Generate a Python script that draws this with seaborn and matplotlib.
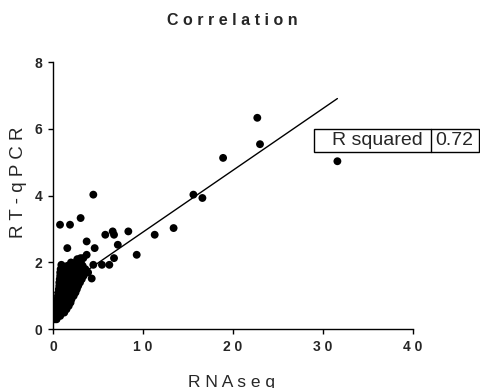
import numpy as np
import pandas as pd
import matplotlib
matplotlib.use("Agg")
import matplotlib.pyplot as plt
import seaborn as sns
from matplotlib.patches import Rectangle

# === Data (RNAseq vs RT-qPCR) ===
# dense cluster near the origin
cluster_x = [0.2, 0.4,
             0.25, 0.55, 0.8,
             0.3, 0.6, 0.95, 1.25,
             0.35, 0.7, 1.1, 1.5,
             0.4, 0.75, 1.1, 1.5, 1.75,
             0.45, 0.8, 1.2, 1.6, 1.95,
             0.5, 0.85, 1.25, 1.65, 2.05,
             0.55, 0.9, 1.3, 1.7, 2.1, 2.3,
             0.6, 1.0, 1.4, 1.8, 2.3, 2.5,
             0.65, 1.05, 1.5, 1.9, 2.4, 2.65,
             0.7, 1.1, 1.55, 2.0, 2.5, 2.8,
             0.7, 1.15, 1.6, 2.1, 2.6, 3.0,
             0.75, 1.2, 1.7, 2.2, 2.7, 3.2,
             0.8, 1.3, 1.8, 2.3, 2.8, 3.4,
             0.8, 1.35, 1.9, 2.4, 2.9, 3.5, 3.9,
             0.85, 1.4, 2.0, 2.5, 3.0, 3.6,
             1.0, 1.6, 2.2, 2.8, 3.3,
             2.0, 2.6, 3.1,
             2.7]
cluster_y = [0.30, 0.30,
             0.40, 0.40, 0.40,
             0.50, 0.50, 0.50, 0.50,
             0.60, 0.60, 0.60, 0.60,
             0.70, 0.70, 0.70, 0.70, 0.70,
             0.80, 0.80, 0.80, 0.80, 0.80,
             0.90, 0.90, 0.90, 0.90, 0.90,
             1.00, 1.00, 1.00, 1.00, 1.00, 1.00,
             1.10, 1.10, 1.10, 1.10, 1.10, 1.10,
             1.20, 1.20, 1.20, 1.20, 1.20, 1.20,
             1.30, 1.30, 1.30, 1.30, 1.30, 1.30,
             1.40, 1.40, 1.40, 1.40, 1.40, 1.40,
             1.50, 1.50, 1.50, 1.50, 1.50, 1.50,
             1.60, 1.60, 1.60, 1.60, 1.60, 1.60,
             1.70, 1.70, 1.70, 1.70, 1.70, 1.70, 1.70,
             1.80, 1.80, 1.80, 1.80, 1.80, 1.80,
             1.90, 1.90, 1.90, 1.90, 1.90,
             2.00, 2.00, 2.00,
             2.10]

# scattered points outside the cluster
outer_x = [31.6, 22.7, 23.0, 18.9, 16.6, 15.6, 4.48, 0.78, 1.89, 3.07,
           13.4, 11.3, 8.37, 6.63, 5.81, 6.78, 7.2, 3.74, 1.59, 4.63,
           9.3, 6.78, 6.26, 5.44, 4.48, 0.93, 3.74, 3.37, 3.07, 2.63, 4.3]
outer_y = [5.03, 6.33, 5.54, 5.13, 3.93, 4.03, 4.03, 3.13, 3.13, 3.33,
           3.03, 2.83, 2.93, 2.93, 2.83, 2.83, 2.53, 2.63, 2.43, 2.43,
           2.23, 2.13, 1.93, 1.93, 1.93, 1.93, 2.23, 2.13, 2.13, 2.03, 1.52]

# fitted line as shown in the reference
slope = 0.185
intercept = 1.06
r_squared = "0.72"

x_ticks = [0, 10, 20, 30, 40]
y_ticks = [0, 2, 4, 6, 8]

df = pd.DataFrame({"RNAseq": cluster_x + outer_x, "RT-qPCR": cluster_y + outer_y})

def spaced(s):
    return " ".join(s)

# === Plot ===
sns.set_style("ticks")
plt.rcParams["font.family"] = ["Liberation Sans", "DejaVu Sans"]

W, H = 481, 388
fig = plt.figure(figsize=(W / 100, H / 100), dpi=100)
ax = fig.add_axes([53 / W, 1 - 329.3 / H, 360 / W, (329.3 - 62) / H])

line_x = np.array([df["RNAseq"].min(), df["RNAseq"].max()])
ax.plot(line_x, intercept + slope * line_x, color="black", lw=1.0, zorder=1)
sns.scatterplot(data=df, x="RNAseq", y="RT-qPCR", color="black", s=32,
                edgecolor="none", ax=ax, zorder=2)

ax.set_xlim(0, 40)
ax.set_ylim(0, 8)
ax.set_xticks(x_ticks)
ax.set_yticks(y_ticks)
ax.set_xticklabels([spaced(str(t)) for t in x_ticks], fontweight="bold", fontsize=10)
ax.set_yticklabels([str(t) for t in y_ticks], fontweight="bold", fontsize=10)
ax.tick_params(direction="out", length=3.5, width=1.0, color="black", pad=4)
ax.set_xlabel("")
ax.set_ylabel("")
sns.despine(ax=ax)
for sp in ["left", "bottom"]:
    ax.spines[sp].set_linewidth(1.0)
    ax.spines[sp].set_color("black")
ax.patch.set_alpha(0)

# title and axis labels (letter-spaced like the original)
fig.text(232 / W, 1 - 25 / H, spaced("Correlation"), ha="center", va="baseline",
         fontsize=11.5, fontweight="bold")
fig.text(232 / W, 1 - 386.5 / H, spaced("RNAseq"), ha="center", va="baseline", fontsize=12.5)
fig.text(19 / W, 1 - 182 / H, spaced("RT-qPCR"), ha="center", va="center",
         rotation=90, fontsize=13.5)

# R squared box
box_l, box_r, box_t, box_b, box_mid = 314, 479, 129, 152, 431
fig.add_artist(Rectangle((box_l / W, 1 - box_b / H), (box_r - box_l) / W,
                         (box_b - box_t) / H, transform=fig.transFigure,
                         facecolor="white", edgecolor="black", lw=1.0))
fig.add_artist(plt.Line2D([box_mid / W, box_mid / W], [1 - box_b / H, 1 - box_t / H],
                          transform=fig.transFigure, color="black", lw=1.0))
fig.text(377.5 / W, 1 - 140.5 / H, "R squared", ha="center", va="center", fontsize=14)
fig.text(454 / W, 1 - 140.5 / H, r_squared, ha="center", va="center", fontsize=14)

fig.savefig("out.png", dpi=100)
